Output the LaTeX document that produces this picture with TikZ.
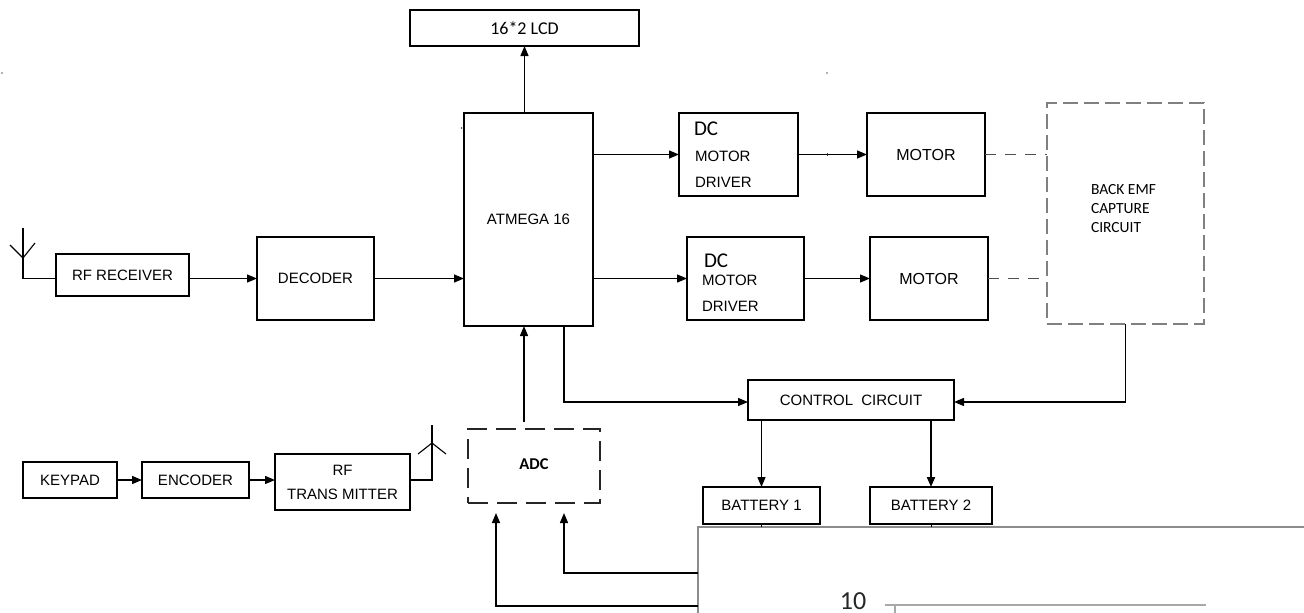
\documentclass[tikz,border=0pt]{standalone}
\usepackage{fontspec}
\setmainfont{Liberation Sans}
\newfontfamily\calfont{Carlito}
\usetikzlibrary{arrows.meta}
\definecolor{emfgray}{HTML}{808080}
\definecolor{framegray}{HTML}{8C8C8C}
\definecolor{linegray}{HTML}{A8A8A8}
\definecolor{dashgray}{HTML}{505050}
\tikzset{
  blk/.style={draw=black, line width=1.3pt, inner sep=0pt, outer sep=0pt, align=center,
    font=\fontsize{15}{24}\selectfont},
  txt/.style={inner sep=0pt, outer sep=0pt, font=\fontsize{15}{18}\selectfont},
  dctxt/.style={inner sep=0pt, outer sep=0pt, font=\calfont\fontsize{21}{24}\selectfont},
  arr/.style={draw=black, line width=1.3pt, -{Triangle[length=10pt,width=8pt]}},
  wire/.style={draw=black, line width=1.3pt},
  dashwire/.style={draw=dashgray, line width=1.3pt, dash pattern=on 11pt off 9pt},
  emfbox/.style={draw=emfgray, line width=2pt, dash pattern=on 15pt off 6pt, inner sep=0pt, outer sep=0pt},
  adcbox/.style={draw=black!85, line width=1.3pt, dash pattern=on 20pt off 9pt, inner sep=0pt, outer sep=0pt},
}
\begin{document}
\begin{tikzpicture}[x=1pt,y=-1pt]
\useasboundingbox (0,0) rectangle (1304,613);

% blocks
\node[blk, minimum width=229pt, minimum height=36pt, font=\calfont\fontsize{18}{20}\selectfont] (lcd) at (524.5,28) {16*2 LCD};
\node[blk, minimum width=133pt, minimum height=42pt] (rfrx) at (122.5,275) {RF RECEIVER};
\node[blk, minimum width=117pt, minimum height=83pt] (dec) at (315.5,278.5) {DECODER};
\node[blk, minimum width=129pt, minimum height=213pt] (atm) at (528.5,219.5) {ATMEGA 16};
\node[blk, minimum width=119pt, minimum height=83pt] (drv1) at (738.5,154.5) {};
\node[blk, minimum width=118pt, minimum height=83pt, font=\fontsize{16}{18}\selectfont] (mot1) at (926,154.5) {MOTOR};
\node[blk, minimum width=117pt, minimum height=83pt] (drv2) at (745.5,278.5) {};
\node[blk, minimum width=118pt, minimum height=83pt, font=\fontsize{16}{18}\selectfont] (mot2) at (929,278.5) {MOTOR};
\node[emfbox, minimum width=157pt, minimum height=221pt] (emf) at (1125.5,213.5) {};
\node[txt, anchor=west, align=left, font=\calfont\fontsize{15.5}{19}\selectfont] (emftxt) at (1091,209) {BACK EMF\\CAPTURE\\CIRCUIT};
\node[blk, minimum width=206pt, minimum height=40pt] (ctrl) at (851,400) {CONTROL\ \ CIRCUIT};
\node[blk, minimum width=117pt, minimum height=37pt] (bat1) at (761.5,505.5) {BATTERY 1};
\node[blk, minimum width=122pt, minimum height=37pt] (bat2) at (931,505.5) {BATTERY 2};
\node[adcbox, minimum width=132pt, minimum height=74pt] (adc) at (534,466) {};
\node[txt, font=\calfont\bfseries\fontsize{16.5}{18}\selectfont] (adctxt) at (534,464) {ADC};
\node[blk, minimum width=94pt, minimum height=36pt] (key) at (70,480) {KEYPAD};
\node[blk, minimum width=107pt, minimum height=36pt] (enc) at (195.5,480) {ENCODER};
\node[blk, minimum width=135pt, minimum height=56pt] (rftx) at (342.5,482) {RF\\TRANS MITTER};

% driver texts
\node[dctxt, anchor=west] (d1dc) at (694,129) {DC};
\node[txt, anchor=west] (d1m) at (695,156) {MOTOR};
\node[txt, anchor=west] (d1d) at (695,182) {DRIVER};
\node[dctxt, anchor=west] (d2dc) at (704,261) {DC};
\node[txt, anchor=west] (d2m) at (702,280) {MOTOR};
\node[txt, anchor=west] (d2d) at (702,306) {DRIVER};

% connectors
\draw[arr] (lcd.south |- atm.north) -- (lcd.south);
\draw[arr] (rfrx.east |- dec.west) -- (dec.west);
\draw[arr] (dec.east) -- (dec.east -| atm.west);
\draw[arr] (atm.east |- drv1.west) -- (drv1.west);
\draw[arr] (drv1.east) -- (mot1.west);
\draw[arr] (atm.east |- drv2.west) -- (drv2.west);
\draw[arr] (drv2.east) -- (mot2.west);
\draw[dashwire] (mot1.east) -- (mot1.east -| emf.west);
\draw[dashwire] (mot2.east) -- (mot2.east -| emf.west);
\draw[arr] ([xshift=35.5pt]atm.south) |- ([yshift=-2pt]ctrl.west);
\draw[arr] (emf.south) |- ([yshift=-2pt]ctrl.east);
\draw[arr] (ctrl.south -| bat1.north) -- (bat1.north);
\draw[arr, line width=2pt] (ctrl.south -| bat2.north) -- (bat2.north);
\coordinate (adcout) at (524,422);
\draw[arr] (adcout) -- (adcout |- atm.south);
\draw[arr] (key.east) -- (enc.west);
\draw[arr] (enc.east) -- (enc.east -| rftx.west);

% antennas
\coordinate (rxa) at (23,228);
\coordinate (rxj) at (23,258);
\draw[wire, line width=1.1pt] (rfrx.west |- dec.west) -| (rxa);
\draw[wire, line width=1.1pt] (10,245) -- (rxj) -- (35,243);
\coordinate (txa) at (432,425);
\coordinate (txj) at (432,443);
\draw[wire, line width=1.1pt] (rftx.east |- enc.east) -| (txa);
\draw[wire, line width=1.1pt] (418,454) -- (txj) -- (446,454);

% overlapping page frame
\coordinate (fr1) at (1304,527);
\coordinate (fr2) at (698,527);
\coordinate (fr3) at (698,613);
\draw[draw=framegray, line width=2.2pt] (fr1) -- (fr2) -- (fr3);
\coordinate (fa) at (698,573);
\coordinate (fb) at (698,606);
\draw[arr] (fa) -| ([xshift=30pt,yshift=-10pt]adc.south);
\draw[arr] (fb) -| ([xshift=-38pt,yshift=-10pt]adc.south);
\draw[wire, line width=1pt] (bat1.south) -- ++(0,3);
\draw[wire, line width=1pt] (bat2.south) -- ++(0,3);
\node[txt, font=\calfont\fontsize{26}{28}\selectfont, text=black!85] (ten) at (853,601.5) {10};
\coordinate (gl1) at (885,605);
\coordinate (gl2) at (1206,605);
\draw[draw=linegray, line width=1.5pt] (gl1) -- (gl2);
\draw[draw=linegray, line width=1.2pt] (895,605) -- (895,613);

% specks
\fill[black!60] (2,73) circle (0.8);
\fill[black!60] (827,73) circle (0.8);
\fill[black!80] (461.5,128) circle (0.9);
\fill[black!80] (827,153) rectangle (828,156);
\end{tikzpicture}
\end{document}
